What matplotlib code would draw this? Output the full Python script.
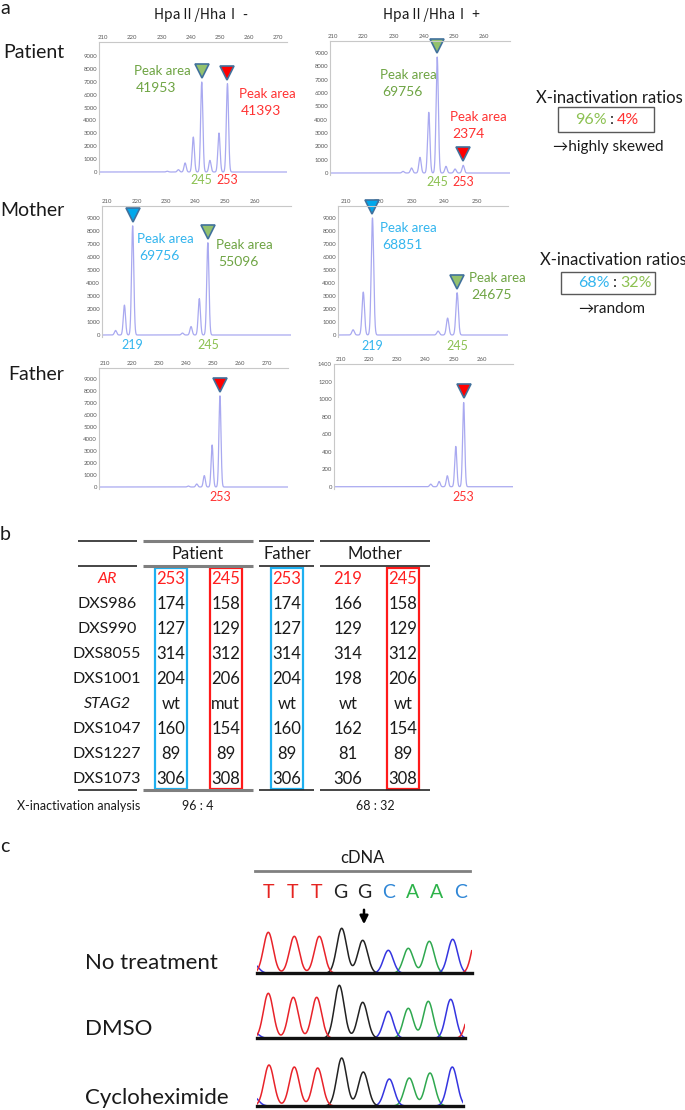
import numpy as np
import matplotlib
matplotlib.use('Agg')
import matplotlib.pyplot as plt
from matplotlib.patches import Rectangle
from matplotlib.transforms import offset_copy, blended_transform_factory

plt.rcParams['font.family'] = ['Lato', 'DejaVu Sans']

W, H = 685, 1110

# ---------------- panel a : fragment analysis (size bp / height RFU) ----------------
pat_neg_size = [232.0, 235.8, 238.1, 240.9, 243.8, 246.6, 249.7, 252.6]
pat_neg_rfu = [60, 180, 700, 2710, 6980, 900, 3020, 6850]
pat_pos_size = [233.2, 236.0, 238.8, 241.7, 244.5, 247.4, 250.4, 253.1]
pat_pos_rfu = [120, 375, 1175, 4550, 8700, 500, 300, 575]
mom_neg_size = [212.9, 215.9, 218.7, 235.6, 238.5, 241.3, 244.2]
mom_neg_rfu = [350, 2300, 8400, 150, 650, 2800, 7100]
mom_pos_size = [212.2, 215.3, 218.1, 238.1, 241.0, 243.9]
mom_pos_rfu = [400, 3300, 9000, 300, 1300, 3250]
fat_neg_size = [240.9, 244.0, 246.8, 249.7, 252.6]
fat_neg_rfu = [80, 250, 950, 3500, 7600]
fat_pos_size = [241.9, 244.9, 247.8, 250.8, 253.6]
fat_pos_rfu = [30, 60, 125, 460, 960]

# marked peaks: (peak index, allele, colour)
pat_neg_marks = [(4, '245', 'g'), (7, '253', 'r')]
pat_pos_marks = [(4, '245', 'g'), (7, '253', 'r')]
mom_neg_marks = [(2, '219', 'b'), (6, '245', 'g')]
mom_pos_marks = [(2, '219', 'b'), (5, '245', 'g')]
fat_neg_marks = [(4, '253', 'r')]
fat_pos_marks = [(4, '253', 'r')]

pat_neg_area = [41953, 41393]
pat_pos_area = [69756, 2374]
mom_neg_area = [69756, 55096]
mom_pos_area = [68851, 24675]

pat_ratio = ['96%', '4%']
mom_ratio = ['68%', '32%']

# ---------------- panel b : haplotype table ----------------
markers = ['AR', 'DXS986', 'DXS990', 'DXS8055', 'DXS1001', 'STAG2', 'DXS1047', 'DXS1227', 'DXS1073']
patient_a = ['253', '174', '127', '314', '204', 'wt', '160', '89', '306']
patient_b = ['245', '158', '129', '312', '206', 'mut', '154', '89', '308']
father = ['253', '174', '127', '314', '204', 'wt', '160', '89', '306']
mother_a = ['219', '166', '129', '314', '198', 'wt', '162', '81', '306']
mother_b = ['245', '158', '129', '312', '206', 'wt', '154', '89', '308']
xi_analysis = ['96 : 4', '68 : 32']

# ---------------- panel c : Sanger traces ----------------
bases = ['C', 'T', 'T', 'T', 'G', 'G', 'C', 'A', 'A', 'C', 'T']
called = ['T', 'T', 'T', 'G', 'G', 'C', 'A', 'A', 'C']
nt_scan = [-3, 11.6, 37.6, 62.6, 85.0, 106.0, 131.6, 151.6, 172.6, 196.0, 220]
nt_signal = [9, 41, 37, 37, 45, 33, 23, 25, 32, 34, 38]
dmso_scan = [-3, 11.6, 36.6, 60.0, 82.6, 106.0, 131.6, 151.6, 171.6, 194.0, 215]
dmso_signal = [6, 45, 41, 41, 53, 36, 27, 30, 37, 39, 35]
chx_scan = [-3, 12.3, 37.6, 61.0, 85.0, 106.6, 132.6, 152.6, 173.3, 195.6, 226]
chx_signal = [9, 41, 39, 38, 48, 34, 27, 28, 33, 39, 10]
treatments = ['No treatment', 'DMSO', 'Cycloheximide']

TXT = '#1a1a1a'
TRACE = '#A9A9F0'
TRI = {'g': '#93C16D', 'r': '#FF0000', 'b': '#00A8EC'}
AREA_C = {'g': '#6EA443', 'r': '#FF3333', 'b': '#33B5EE'}
LAB_C = {'g': '#8CC152', 'r': '#FF3333', 'b': '#33B5EE'}
BASE_C = {'T': '#E8232A', 'G': '#222222', 'C': '#3535E0', 'A': '#2FA84F'}
LETTER_C = {'T': '#E52421', 'G': '#222222', 'C': '#2E86D6', 'A': '#2DB34A'}

fig = plt.figure(figsize=(W / 100, H / 100), dpi=100)
ov = fig.add_axes([0, 0, 1, 1])
ov.set_xlim(0, W)
ov.set_ylim(H, 0)
ov.axis('off')
ov.set_zorder(10)


def px_axes(x0, y0, x1, y1):
    return fig.add_axes([x0 / W, 1 - y1 / H, (x1 - x0) / W, (y1 - y0) / H])


def peaks(x, pos, hts, sigma):
    y = np.zeros_like(x)
    for p, h in zip(pos, hts):
        y += h * np.exp(-0.5 * ((x - p) / sigma) ** 2)
    return y


def draw_epg(rect, xlim, ylim, yticks, size, rfu, marks, label_y):
    ax = px_axes(*rect)
    x = np.linspace(xlim[0], xlim[1], 2000)
    ax.plot(x, peaks(x, size, rfu, 0.38), color=TRACE, lw=0.9)
    ax.set_xlim(xlim)
    ax.set_ylim(ylim)
    ax.xaxis.tick_top()
    ax.set_xticks([t for t in range(210, 280, 10) if xlim[0] <= t <= xlim[1] - 3])
    ax.set_yticks(yticks)
    ax.tick_params(length=0, labelsize=4.3, labelcolor='#595959', pad=1.5)
    for s in ['right', 'bottom']:
        ax.spines[s].set_visible(False)
    for s in ['top', 'left']:
        ax.spines[s].set_color('#C8C8C8')
        ax.spines[s].set_linewidth(0.8)
    tri = offset_copy(ax.transData, fig=fig, y=8, units='points')
    lab = blended_transform_factory(ax.transData, ov.transData)
    for i, allele, c in marks:
        ax.plot(size[i], rfu[i], marker='v', ms=10, mfc=TRI[c], mec='#41719C',
                mew=1.2, transform=tri, clip_on=False)
        ov.text(size[i], label_y, allele, transform=lab, color=LAB_C[c],
                fontsize=9, ha='center', va='center')
    return ax


yt9 = list(range(0, 10000, 1000))
draw_epg((99, 42, 287, 174), (208.6, 273.0), (-155, 10080), yt9,
         pat_neg_size, pat_neg_rfu, pat_neg_marks, 180)
draw_epg((330, 41, 510, 175), (209.0, 268.6), (-150, 9900), yt9,
         pat_pos_size, pat_pos_rfu, pat_pos_marks, 182)
draw_epg((102, 206, 291, 337), (208.3, 272.4), (-154, 9923), yt9,
         mom_neg_size, mom_neg_rfu, mom_neg_marks, 345)
draw_epg((338, 206, 508, 337), (207.6, 259.4), (-154, 9923), yt9,
         mom_pos_size, mom_pos_rfu, mom_pos_marks, 346)
draw_epg((99, 368, 288, 489), (207.8, 277.8), (-167, 9917), yt9,
         fat_neg_size, fat_neg_rfu, fat_neg_marks, 497)
draw_epg((334, 364, 513, 489), (207.6, 271.1), (-26, 1400), list(range(0, 1500, 200)),
         fat_pos_size, fat_pos_rfu, fat_pos_marks, 497)

# peak area call-outs
area_spots = [
    (pat_neg_area, pat_neg_marks, [(134, 71), (239, 94)]),
    (pat_pos_area, pat_pos_marks, [(380, 75), (450, 117)]),
    (mom_neg_area, mom_neg_marks, [(137, 239), (216, 245)]),
    (mom_pos_area, mom_pos_marks, [(380, 228), (469, 278)]),
]
for areas, marks, spots in area_spots:
    for a, m, (tx, ty) in zip(areas, marks, spots):
        ov.text(tx, ty, 'Peak area', color=AREA_C[m[2]], fontsize=9.5, ha='left', va='center')
        ov.text(tx + 2, ty + 17, str(a), color=AREA_C[m[2]], fontsize=10, ha='left', va='center')

ov.text(0, 9, 'a', fontsize=14, color=TXT, ha='left', va='center')
cjk = ['Noto Sans CJK JP', 'DejaVu Sans']
ov.text(201, 15, 'HpaⅡ/HhaⅠ -', family=cjk, fontsize=10, color=TXT, ha='center', va='center')
ov.text(431, 15, 'HpaⅡ/HhaⅠ +', family=cjk, fontsize=10, color=TXT, ha='center', va='center')
ov.text(3, 52, 'Patient', fontsize=14, color=TXT, ha='left', va='center')
ov.text(0, 210, 'Mother', fontsize=14, color=TXT, ha='left', va='center')
ov.text(8, 375, 'Father', fontsize=14, color=TXT, ha='left', va='center')

# X-inactivation ratios
for ratio, cols, cx, ty, box, note in [
        (pat_ratio, ('g', 'r'), 609, 98, (558, 107, 96, 25), '→highly skewed'),
        (mom_ratio, ('b', 'g'), 613, 260, (561, 272, 94, 22), '→random')]:
    ov.text(cx, ty, 'X-inactivation ratios', fontsize=12, color=TXT, ha='center', va='center')
    ov.add_patch(Rectangle(box[:2], box[2], box[3], fill=False, ec='#595959', lw=1))
    my = box[1] + box[3] / 2
    mx = box[0] + 54
    ov.text(mx - 5, my, ratio[0], color=LAB_C[cols[0]], fontsize=11.5, ha='right', va='center')
    ov.text(mx, my, ':', color=TXT, fontsize=11.5, ha='center', va='center')
    ov.text(mx + 5, my, ratio[1], color=LAB_C[cols[1]], fontsize=11.5, ha='left', va='center')
    ov.text(cx - 1, box[1] + box[3] + 15, note, fontsize=11, color=TXT, ha='center', va='center')

# ---------------- table ----------------
ov.text(0, 535, 'b', fontsize=14, color=TXT, ha='left', va='center')
tfont = ['Lato', 'DejaVu Sans']
segs = [(78, 137), (143, 253), (259, 314), (320, 430)]
for yy in [540.7, 565.7, 790]:
    for k, (s0, s1) in enumerate(segs):
        if k == 1:
            ov.plot([s0, s1], [yy, yy], color='#7F7F7F', lw=2.2, solid_capstyle='butt')
        else:
            ov.plot([s0, s1], [yy, yy], color='#262626', lw=1.2, solid_capstyle='butt')
for name, hx in [('Patient', 198), ('Father', 287), ('Mother', 375)]:
    ov.text(hx, 554, name, family=tfont, fontsize=12, color=TXT, ha='center', va='center')

col_x = [170.7, 225.7, 286.7, 347.7, 402.7]
cols = [patient_a, patient_b, father, mother_a, mother_b]
row_y0, row_dy = 579.3, 25
for r, m in enumerate(markers):
    yy = row_y0 + r * row_dy
    italic = m in ('AR', 'STAG2')
    c = '#FF2020' if m == 'AR' else TXT
    ov.text(107, yy, m, family=tfont, fontsize=11.5, color=c, ha='center', va='center',
            style='italic' if italic else 'normal')
    for cx, col in zip(col_x, cols):
        ov.text(cx, yy, col[r], family=tfont, fontsize=12, color=c, ha='center', va='center')
y_top = row_y0 - 11.6
y_bot = row_y0 + (len(markers) - 1) * row_dy + 10
for ci, ec in [(0, '#1EB0F0'), (1, '#FF1A1A'), (2, '#1EB0F0'), (4, '#FF1A1A')]:
    ov.add_patch(Rectangle((col_x[ci] - 16, y_top), 32, y_bot - y_top, fill=False, ec=ec, lw=1.6))
ov.text(79, 806, 'X-inactivation analysis', fontsize=9, color=TXT, ha='center', va='center')
ov.text(198, 806, xi_analysis[0], fontsize=9, color=TXT, ha='center', va='center')
ov.text(375, 806, xi_analysis[1], fontsize=9, color=TXT, ha='center', va='center')

# ---------------- panel c ----------------
ov.text(0, 846, 'c', fontsize=14, color=TXT, ha='left', va='center')
ov.text(362, 858, 'cDNA', fontsize=12, color=TXT, ha='center', va='center')
ov.plot([255, 470], [871, 871], color='#808080', lw=2)
for bx, b in zip(np.linspace(268.3, 461, len(called)), called):
    ov.text(bx, 892, b, fontsize=14, color=LETTER_C[b], ha='center', va='center')
ov.annotate('', xy=(364, 927), xytext=(364, 907),
            arrowprops=dict(arrowstyle='-|>', color='k', lw=1.8, mutation_scale=12))

traces = [(nt_scan, nt_signal, 973.3, 215), (dmso_scan, dmso_signal, 1038.3, 208.3),
          (chx_scan, chx_signal, 1106, 206.6)]
label_y = [963, 1029, 1098]
for (scan, sig, base_y, end), name, ly in zip(traces, treatments, label_y):
    ax = px_axes(256.7, base_y - 55, 256.7 + end, base_y)
    x = np.linspace(0, end, 800)
    for ch in ['A', 'C', 'G', 'T']:
        pos = [p for p, b in zip(scan, bases) if b == ch]
        hts = [h for h, b in zip(sig, bases) if b == ch]
        ax.plot(x, peaks(x, pos, hts, 4.9), color=BASE_C[ch], lw=1.1)
    ax.set_xlim(0, end)
    ax.set_ylim(0, 55)
    ax.set_xticks([])
    ax.set_yticks([])
    for s in ['top', 'left', 'right']:
        ax.spines[s].set_visible(False)
    ax.spines['bottom'].set_linewidth(2.4)
    ax.spines['bottom'].set_color('#111111')
    ax.patch.set_visible(False)
    ov.text(85, ly, name, fontsize=16, color=TXT, ha='left', va='center')

fig.savefig('out.png', dpi=100)
